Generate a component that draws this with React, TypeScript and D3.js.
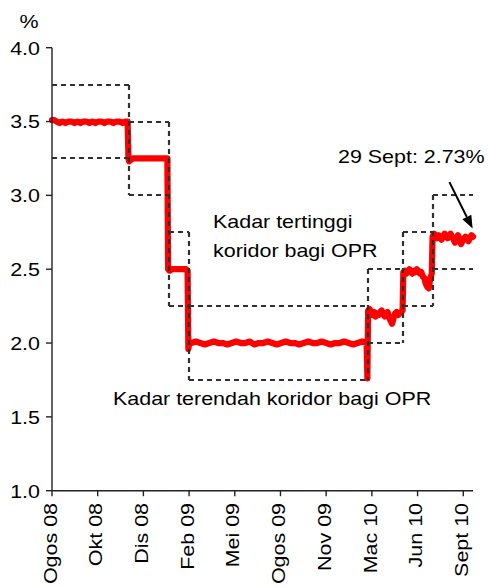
import React from "react";
import * as d3 from "d3";

const tickLabels = ["Ogos 08", "Okt 08", "Dis 08", "Feb 09", "Mei 09", "Ogos 09", "Nov 09", "Mac 10", "Jun 10", "Sept 10"];
const tickDays = [0, 61, 122, 183, 244, 305, 366, 427, 488, 549];
const yTicks = [1.0, 1.5, 2.0, 2.5, 3.0, 3.5, 4.0];

const corridorStart = [0, 103, 156, 183, 422, 469, 508];
const corridorEnd = [103, 156, 183, 422, 469, 508, 562];
const corridorLow = [3.25, 3.0, 2.25, 1.75, 2.0, 2.25, 2.5];
const corridorHigh = [3.75, 3.5, 2.75, 2.25, 2.5, 2.75, 3.0];

// interbank overnight rate, [trading day, %]
const rateP1: [number, number][] = [
  [0, 3.51], [3, 3.51], [6, 3.5], [10, 3.49], [14, 3.5], [18, 3.49], [22, 3.5], [26, 3.5], [30, 3.49],
  [34, 3.5], [38, 3.49], [42, 3.5], [46, 3.5], [50, 3.49], [54, 3.5], [58, 3.49], [62, 3.5], [66, 3.5],
  [70, 3.49], [74, 3.5], [78, 3.5], [82, 3.49], [86, 3.5], [90, 3.5], [94, 3.49], [98, 3.5], [101, 3.5],
];
const rateP2: [number, number][] = [
  [102, 3.25], [103, 3.23], [105, 3.24], [108, 3.25], [112, 3.25], [116, 3.25], [120, 3.25], [125, 3.25],
  [130, 3.25], [135, 3.25], [140, 3.25], [145, 3.25], [150, 3.25], [154, 3.25],
];
const rateP3: [number, number][] = [
  [155, 2.5], [157, 2.49], [160, 2.5], [165, 2.5], [170, 2.5], [175, 2.5], [179, 2.5], [181, 2.49],
];
const rateP4: [number, number][] = [
  [182, 1.96], [183, 1.99], [186, 2.0], [192, 2.01], [198, 2.0], [204, 1.99], [210, 2.0], [216, 2.01],
  [222, 2.0], [228, 2.0], [234, 1.99], [240, 2.0], [246, 2.01], [252, 2.0], [258, 2.0], [264, 2.01],
  [270, 1.99], [276, 2.0], [282, 2.0], [288, 2.01], [294, 2.0], [300, 1.99], [306, 2.0], [312, 2.01],
  [318, 2.0], [324, 2.0], [330, 1.99], [336, 2.0], [342, 2.01], [348, 2.0], [354, 2.0], [360, 2.01],
  [366, 2.0], [372, 1.99], [378, 2.0], [384, 2.0], [390, 2.01], [396, 2.0], [402, 1.99], [408, 2.0],
  [414, 2.01], [420, 2.0], [421, 1.76],
];
const rateP5: [number, number][] = [
  [422, 2.22], [424, 2.23], [426, 2.2], [428, 2.19], [430, 2.21], [432, 2.18], [434, 2.2], [436, 2.19],
  [438, 2.21], [440, 2.22], [442, 2.2], [444, 2.18], [446, 2.19], [448, 2.21], [450, 2.17], [452, 2.15],
  [454, 2.13], [456, 2.17], [458, 2.2], [460, 2.21], [462, 2.19], [464, 2.2], [466, 2.21], [468, 2.22],
];
const rateP6: [number, number][] = [
  [469, 2.48], [471, 2.49], [473, 2.47], [475, 2.48], [477, 2.5], [479, 2.48], [481, 2.47], [483, 2.49],
  [485, 2.48], [487, 2.5], [489, 2.49], [491, 2.47], [493, 2.48], [495, 2.45], [497, 2.44], [499, 2.4],
  [501, 2.38], [503, 2.37], [505, 2.44], [507, 2.47],
];
const rateP7: [number, number][] = [
  [508, 2.72], [510, 2.74], [512, 2.73], [514, 2.71], [516, 2.73], [518, 2.72], [520, 2.7], [522, 2.72],
  [524, 2.74], [526, 2.73], [528, 2.71], [530, 2.72], [532, 2.74], [534, 2.72], [536, 2.7], [538, 2.68],
  [540, 2.71], [542, 2.73], [544, 2.7], [546, 2.67], [548, 2.69], [550, 2.71], [552, 2.72], [554, 2.71],
  [556, 2.69], [558, 2.71], [560, 2.73], [562, 2.72],
];
const rateSeries = [...rateP1, ...rateP2, ...rateP3, ...rateP4, ...rateP5, ...rateP6, ...rateP7];

const FONT = "'Liberation Sans', Arial, Helvetica, sans-serif";
const FS = 18.5;
const SX = 1.16;

export default function App() {
  const W = 490, H = 587;
  const x = d3.scaleLinear().domain([0, 562]).range([52, 473]);
  const y = d3.scaleLinear().domain([1, 4]).range([490.7, 47.7]);

  const line = d3.line<[number, number]>().x((d) => x(d[0])).y((d) => y(d[1])).curve(d3.curveLinear);

  const segs: string[] = [];
  for (let i = 0; i < corridorStart.length; i++) {
    const x0 = Math.round(x(corridorStart[i])), x1 = Math.round(x(corridorEnd[i]));
    segs.push(`M${x0},${Math.round(y(corridorHigh[i]))}H${x1}`);
    segs.push(`M${x0},${Math.round(y(corridorLow[i]))}H${x1}`);
    if (i > 0) {
      const hi = Math.max(corridorHigh[i], corridorHigh[i - 1]);
      const lo = Math.min(corridorLow[i], corridorLow[i - 1]);
      segs.push(`M${x0},${Math.round(y(hi))}V${Math.round(y(lo))}`);
    }
  }

  const txt = (s: string, tx: number, ty: number, anchor = "start", rot = 0) => (
    <text
      transform={`translate(${tx},${ty})${rot ? ` rotate(${rot})` : ""} scale(${SX},1)`}
      textAnchor={anchor}
      fontFamily={FONT}
      fontSize={FS}
      fill="#000"
    >
      {s}
    </text>
  );

  const ax0 = x(530.5), ay0 = y(3.09), ax1 = x(561.5), ay1 = y(2.775);
  const ang = Math.atan2(ay1 - ay0, ax1 - ax0);
  const hl = 13, hw = 5;
  const bx = ax1 - hl * Math.cos(ang), by = ay1 - hl * Math.sin(ang);
  const head = `M${ax1},${ay1}L${bx + hw * Math.sin(ang)},${by - hw * Math.cos(ang)}L${bx - hw * Math.sin(ang)},${by + hw * Math.cos(ang)}Z`;

  return (
    <svg width={W} height={H} style={{ position: "absolute", left: 0, top: 0, background: "#fff" }}>
      <rect width={W} height={H} fill="#fff" />
      <path d={line(rateSeries) || ""} fill="none" stroke="#ff0000" strokeWidth={6.2} strokeLinejoin="round" strokeLinecap="round" />
      <path d={segs.join("")} fill="none" stroke="#303030" strokeWidth={2.2} strokeDasharray="5 4" />
      <line x1={52} x2={52} y1={y(4)} y2={y(1)} stroke="#222" strokeWidth={1.4} />
      <line x1={52} x2={473} y1={y(1)} y2={y(1)} stroke="#222" strokeWidth={1.4} />
      {yTicks.map((t) => (
        <g key={t}>
          <line x1={46} x2={52} y1={y(t)} y2={y(t)} stroke="#222" strokeWidth={1.4} />
          {txt(t.toFixed(1), 40, y(t) + 6.8, "end")}
        </g>
      ))}
      {tickDays.map((d, i) => (
        <g key={d}>
          <line x1={x(d)} x2={x(d)} y1={y(1)} y2={y(1) + 5.5} stroke="#222" strokeWidth={1.4} />
          {txt(tickLabels[i], x(d) + 4.7, 503, "end", -90)}
        </g>
      ))}
      {txt("%", 29, 28, "middle")}
      {txt("Kadar tertinggi", 213, 228)}
      {txt("koridor bagi OPR", 213, 256.5)}
      {txt("Kadar terendah koridor bagi OPR", 113, 405)}
      {txt("29 Sept: 2.73%", 338, 163)}
      <line x1={ax0} y1={ay0} x2={bx} y2={by} stroke="#000" strokeWidth={2} />
      <path d={head} fill="#000" />
    </svg>
  );
}
